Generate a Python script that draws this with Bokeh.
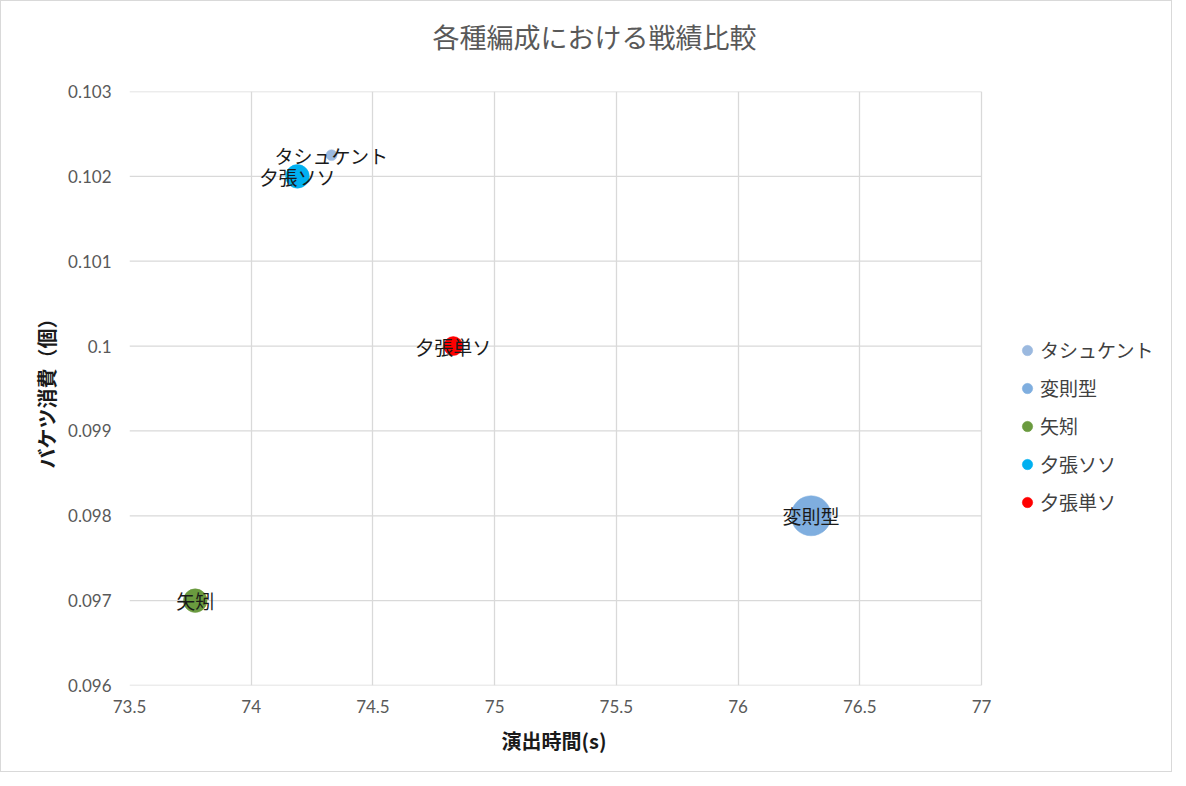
from bokeh.plotting import figure
from bokeh.models import ColumnDataSource, Legend, LegendItem, FixedTicker, Range1d, Title
from bokeh.core.properties import value
from bokeh.embed import file_html
from bokeh.resources import INLINE
import math

# ---- data ----
names = ["タシュケント", "変則型", "矢矧", "夕張ソソ", "夕張単ソ"]
play_time = [74.33, 76.30, 73.77, 74.19, 74.83]          # 演出時間(s)
bucket_use = [0.10225, 0.098, 0.097, 0.102, 0.100]        # バケツ消費（個）
bubble_size = [3, 40, 14, 14, 9]
colors = ["#9BB9DF", "#7FAEDF", "#6A9A3F", "#00B0F0", "#FF0000"]

x_ticks = [73.5, 74, 74.5, 75, 75.5, 76, 76.5, 77]
x_tick_labels = ["73.5", "74", "74.5", "75", "75.5", "76", "76.5", "77"]
y_ticks = [0.096, 0.097, 0.098, 0.099, 0.100, 0.101, 0.102, 0.103]
y_tick_labels = ["0.096", "0.097", "0.098", "0.099", "0.1", "0.101", "0.102", "0.103"]

title_text = "各種編成における戦績比較"
x_label = "演出時間(s)"
y_label = "バケツ消費（個）"

JP = "Noto Sans CJK JP"
NUM = "Lato"

# ---- layout ----
PLOT_W = 852          # width of the gridded plot area
FRAME_W = 1030        # frame incl. the legend area on the right
FRAME_H = 594
x_start, x_end_grid = x_ticks[0], x_ticks[-1]
x_end = x_start + FRAME_W * (x_end_grid - x_start) / PLOT_W

p = figure(frame_width=FRAME_W, frame_height=FRAME_H, output_backend="svg", toolbar_location=None,
           x_range=Range1d(x_start, x_end), y_range=Range1d(y_ticks[0], y_ticks[-1]),
           min_border_left=128, min_border_right=12, min_border_top=90, min_border_bottom=86,
           title=None)
p.background_fill_color = "white"
p.border_fill_color = "white"
p.outline_line_color = None
p.styles = {"border": "1px solid #D9D9D9"}

# title (spacer keeps the frame where it is and lifts the title)
p.add_layout(Title(text=" ", text_font_size="1px", standoff=33), "above")
p.add_layout(Title(text=title_text, align="left", offset=303, standoff=0,
                   text_font=JP, text_font_size="27px", text_font_style="normal",
                   text_color="#595959"), "above")

# grid
GRID = "#D9D9D9"
p.xgrid.ticker = FixedTicker(ticks=x_ticks)
p.xgrid.grid_line_color = GRID
p.xgrid.grid_line_width = 1.3
p.ygrid.visible = False
p.segment(x0=[x_start] * len(y_ticks), x1=[x_end_grid] * len(y_ticks), y0=y_ticks, y1=y_ticks,
          line_color=GRID, line_width=1.3, level="underlay")

# axes
p.xaxis.ticker = FixedTicker(ticks=x_ticks)
p.yaxis.ticker = FixedTicker(ticks=y_ticks)
p.xaxis.bounds = (x_start, x_end_grid)
p.xaxis.major_label_overrides = {t: l for t, l in zip(x_ticks, x_tick_labels)}
p.yaxis.major_label_overrides = {t: l for t, l in zip(y_ticks, y_tick_labels)}
for ax in (p.xaxis[0], p.yaxis[0]):
    ax.axis_line_color = None
    ax.major_tick_line_color = None
    ax.minor_tick_line_color = None
    ax.major_label_text_font = NUM
    ax.major_label_text_font_size = "17px"
    ax.major_label_text_color = "#595959"
p.yaxis.axis_label = y_label
p.yaxis.axis_label_text_font = JP
p.yaxis.axis_label_text_font_size = "20px"
p.yaxis.axis_label_text_font_style = "bold"
p.yaxis.axis_label_text_color = "#1a1a1a"
p.xaxis.major_label_standoff = 8
p.yaxis.major_label_standoff = 12
p.yaxis.axis_label_standoff = 4

# x-axis title, centred under the gridded area (not the whole frame)
p.add_layout(Title(text=x_label, align="left", offset=372, standoff=20, vertical_align="top",
                   text_font=JP, text_font_size="20px", text_font_style="bold",
                   text_color="#1a1a1a"), "below")

# bubbles
max_d = 40.0
max_s = max(bubble_size)
items = []
for n, xv, yv, s, c in zip(names, play_time, bucket_use, bubble_size, colors):
    d = max_d * math.sqrt(s / max_s)
    src = ColumnDataSource(dict(x=[xv], y=[yv], size=[d], name=[n]))
    r = p.scatter("x", "y", size="size", source=src, fill_color=c, line_color=c, line_width=0.5)
    items.append(LegendItem(label=n, renderers=[r]))

# data labels
lab_src = ColumnDataSource(dict(x=play_time, y=bucket_use, t=names))
p.text("x", "y", text="t", source=lab_src, text_align="center", text_baseline="middle",
       text_font=value(JP), text_font_size="19px", text_color="#1a1a1a")

# legend (inside the widened frame, right of the gridded area)
legend = Legend(items=items, location=(885, 170), orientation="vertical")
legend.border_line_color = None
legend.background_fill_alpha = 0
legend.padding = 0
legend.margin = 0
legend.glyph_width = 26
legend.glyph_height = 26
legend.label_standoff = 0
legend.label_height = 26
legend.spacing = 11
legend.label_text_font = JP
legend.label_text_font_size = "19px"
legend.label_text_color = "#404040"
p.add_layout(legend)

open("out.html", "w").write(file_html(p, INLINE))
